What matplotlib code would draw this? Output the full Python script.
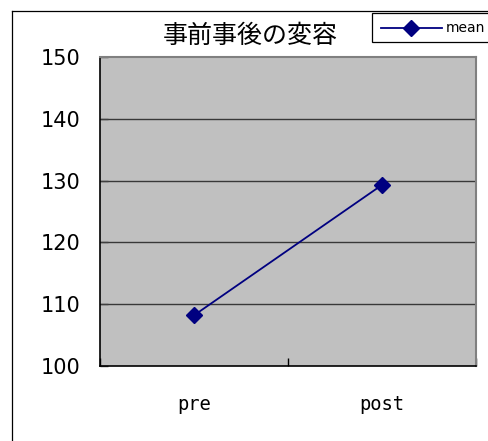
import matplotlib.pyplot as plt
from matplotlib.lines import Line2D
from matplotlib.patches import Rectangle

plt.rcParams['font.family'] = ['Noto Sans CJK JP', 'DejaVu Sans']

# Mean score before and after
categories = ['pre', 'post']
mean_values = [108.2, 129.3]
y_ticks = [100, 110, 120, 130, 140, 150]

W, H = 489, 441
fig = plt.figure(figsize=(W / 100, H / 100), dpi=100)


def fx(px):
    return px / W


def fy(py):
    return 1 - py / H


# chart frame (left and top edges only are inside the image)
fig.add_artist(Line2D([fx(12.5), fx(12.5)], [fy(10.5), -0.05], color='black', linewidth=0.9))
fig.add_artist(Line2D([fx(12.5), 1.05], [fy(10.5), fy(10.5)], color='black', linewidth=0.9))

ax = fig.add_axes([fx(100), fy(366), fx(376), (366 - 57) / H])
ax.set_facecolor('#c0c0c0')

x = list(range(len(categories)))
ax.plot(x, mean_values, color='#000080', linewidth=1.3, marker='D', markersize=8,
        markerfacecolor='#000080', markeredgecolor='#000080', zorder=3)

ax.set_xlim(-0.5, len(categories) - 0.5)
ax.set_ylim(100, 150)
ax.set_yticks(y_ticks)
ax.set_yticklabels([str(v) for v in y_ticks], fontsize=15, family='DejaVu Sans')
for v in y_ticks[1:-1]:
    ax.axhline(v, color='#383838', linewidth=1.0, zorder=1)

ax.set_xticks(x)
ax.set_xticklabels(categories, fontsize=13.5, family='DejaVu Sans Mono')
ax.set_xticks([-0.5, 0.5, 1.5], minor=True)
ax.tick_params(axis='x', which='major', length=0, pad=21)
ax.tick_params(axis='x', which='minor', direction='in', length=6, width=1, color='black')
ax.tick_params(axis='y', direction='in', length=6, width=1, color='#404040', pad=14)

for side in ['left', 'bottom']:
    ax.spines[side].set_color('black')
    ax.spines[side].set_linewidth(1.2)
for side in ['top', 'right']:
    ax.spines[side].set_color('#808080')
    ax.spines[side].set_linewidth(1.5)

fig.text(fx(250), fy(36), '事前事後の変容', ha='center', va='center', fontsize=18)

# legend box, running off the right edge
fig.add_artist(Rectangle((fx(372.5), fy(42)), fx(130), (42 - 13) / H, transform=fig.transFigure,
                         facecolor='white', edgecolor='black', linewidth=0.9))
fig.add_artist(Line2D([fx(381), fx(442)], [fy(28), fy(28)], color='#000080', linewidth=1.3))
fig.add_artist(Line2D([fx(411)], [fy(28)], color='#000080', marker='D', markersize=8,
                      markeredgecolor='#000080', markerfacecolor='#000080'))
fig.text(fx(446), fy(28), 'mean', ha='left', va='center', fontsize=10, family='DejaVu Sans')

fig.savefig('out.png', dpi=100)
